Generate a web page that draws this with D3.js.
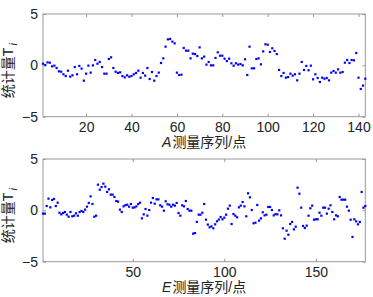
<!DOCTYPE html>
<html>
<head>
<meta charset="utf-8">
<script src="https://cdn.jsdelivr.net/npm/d3@7"></script>
<style>
body { margin: 0; background: #fff; }
</style>
</head>
<body>
<div id="chart"></div>
<script>
const seriesA = [
  0.16, 0.03, 0.29, 0.26, -0.10, -0.03, -0.26, -0.58, -0.62, -0.87,
  -1.04, -0.52, -1.10, -0.97, -0.16, -0.87, -0.06, -0.32, -1.49, -0.81,
  -0.03, -0.71, 0.00, 0.52, 0.16, 0.33, -0.16, -0.81, -0.81, 0.62,
  0.78, -0.26, -0.62, -0.74, -0.68, -1.04, -1.17, -0.97, -1.10, -1.04,
  -0.87, -0.74, -0.52, -1.20, -0.74, -1.00, -0.26, -1.33, -0.65, -1.49,
  -1.04, -0.71, 0.23, 0.68, 1.82, 2.53, 2.57, 2.31, 2.14, -0.71,
  -0.94, -0.91, 1.69, 1.43, 1.43, 0.68, 1.14, 1.10, 0.91, 1.75,
  0.68, 0.85, 0.07, 0.33, 0.00, 0.00, 0.72, 1.27, 0.94, 0.94,
  0.65, 0.42, 0.65, 0.20, -0.03, 0.20, 0.07, 0.13, 0.00, 0.59,
  -0.94, 1.82, -0.29, -0.29, 0.62, 0.68, 0.10, 1.36, 2.05, 2.01,
  1.30, 1.66, 1.40, 1.10, -0.45, -1.04, -0.74, -1.20, -1.14, -0.81,
  -1.00, -0.87, -1.46, -0.81, 0.33, -0.45, -0.06, -0.48, -0.03, -1.36,
  -0.87, -1.23, -1.62, -1.20, -1.30, -1.23, -1.46, -0.71, -0.55, -0.71,
  -0.39, -0.71, -0.65, 0.26, 0.52, 0.23, 0.52, 0.49, 1.20, -1.20,
  -2.30, -1.97, -1.30
];

const seriesE = [
  -0.32, -0.32, 0.42, 1.14, 0.29, 1.01, 1.11, 0.42, 0.75, -0.23,
  -0.39, -0.26, -0.16, -0.42, -0.62, -0.16, -0.58, -0.52, -0.29, -0.52,
  -0.16, -0.06, -0.16, 0.07, 0.36, 0.72, 1.36, 0.62, -0.62, -0.52,
  2.50, 2.01, 2.27, 2.60, 2.31, 1.79, 2.05, 1.53, 1.53, 1.30,
  0.91, 0.85, 0.07, -0.16, 0.39, 0.50, 0.55, 0.36, 0.62, 0.26,
  0.29, 0.39, 0.62, 0.75, -0.78, -0.39, 0.13, -0.52, 0.03, 0.75,
  1.20, 0.65, 1.07, 1.07, 0.49, 0.36, -0.03, 0.88, 0.59, 0.55,
  0.36, 0.55, 0.46, 0.72, -0.26, -0.52, 0.49, 0.39, 0.91, 0.13,
  -0.03, -0.03, -2.27, -2.21, -1.13, -0.42, -0.42, -0.23, 0.62, -0.91,
  -1.39, -1.65, -1.56, -1.75, -1.36, -1.07, -0.90, -0.65, -0.87, -0.71,
  -0.42, 0.16, 0.46, -1.33, -0.36, -0.52, -0.68, 0.29, 0.46, 0.81,
  0.39, -0.58, 1.66, 1.27, 0.03, -1.26, -1.20, 0.52, -1.00, -0.78,
  -0.19, -0.49, -0.42, 0.33, 0.33, 0.03, -0.49, -0.36, -0.39, 0.00,
  -0.49, -1.75, -2.76, -1.98, -2.37, -1.33, -1.13, -1.85, -1.59, 2.21,
  1.62, 0.26, -1.52, -1.72, -1.49, -0.52, 0.20, 0.46, -0.91, -0.87,
  -0.87, -0.23, -0.52, 0.26, 0.26, -0.32, 0.16, 0.49, -0.16, -0.87,
  -0.49, -0.58, 1.30, 1.04, 1.04, 1.04, 0.36, -0.03, -0.91, -2.59,
  -0.87, -1.07, -1.36, -1.13, 1.79, 0.26, 0.42
];

const ticksA = [20, 40, 60, 80, 100, 120, 140];
const ticksE = [50, 100, 150];
const yTicks = [-5, 0, 5];
const yDomain = [-5, 5];
const yLabel = "统计量T";
const xLabelTail = "测量序列/点";

const width = 373, height = 297;
const left = 43, right = 365.3;
const axisColor = "#999";
const textColor = "#222";
const numFont = "'Liberation Sans', Arial, sans-serif";
const cjkFont = "'Liberation Sans', 'Noto Sans CJK SC', sans-serif";

const svg = d3.select("#chart")
  .append("svg")
  .attr("width", width)
  .attr("height", height);

function drawPanel(data, ticks, letter, top, bottom) {
  const g = svg.append("g");

  const x = d3.scaleLinear().domain([1, data.length]).range([left, right]);
  const y = d3.scaleLinear().domain(yDomain).range([bottom, top]);

  // inward ticks on all four sides, like the matlab box
  g.append("g")
    .attr("transform", `translate(0,${bottom})`)
    .call(d3.axisBottom(x).tickValues(ticks).tickSize(-3).tickPadding(5));
  g.append("g")
    .attr("transform", `translate(0,${top})`)
    .call(d3.axisTop(x).tickValues(ticks).tickSize(-3).tickFormat(""));
  g.append("g")
    .attr("transform", `translate(${left},0)`)
    .call(d3.axisLeft(y).tickValues(yTicks).tickSize(-3).tickPadding(5));
  g.append("g")
    .attr("transform", `translate(${right},0)`)
    .call(d3.axisRight(y).tickValues(yTicks).tickSize(-3).tickFormat(""));

  g.selectAll(".domain").remove();
  g.selectAll(".tick line").attr("stroke", axisColor);
  g.selectAll(".tick text")
    .attr("fill", textColor)
    .style("font-family", numFont)
    .style("font-size", "14px");

  g.append("rect")
    .attr("x", left)
    .attr("y", top)
    .attr("width", right - left)
    .attr("height", bottom - top)
    .attr("fill", "none")
    .attr("stroke", axisColor)
    .attr("stroke-width", 1);

  g.selectAll("rect.pt")
    .data(data)
    .join("rect")
    .attr("class", "pt")
    .attr("x", (d, i) => x(i + 1) - 1.1)
    .attr("y", d => y(d) - 1.1)
    .attr("width", 2.2)
    .attr("height", 2.2)
    .attr("fill", "#0000ff");

  // x label: italic letter + chinese tail, as two texts side by side
  const xl = g.append("g").attr("transform", `translate(0,${bottom + 30})`);
  const lt = xl.append("text")
    .attr("fill", textColor)
    .style("font-family", numFont)
    .style("font-style", "italic")
    .style("font-size", "14px")
    .text(letter);
  const tt = xl.append("text")
    .attr("fill", textColor)
    .style("font-family", cjkFont)
    .style("font-size", "14px")
    .text(xLabelTail);
  const wl = lt.node().getComputedTextLength() + 1;
  const wt = tt.node().getComputedTextLength();
  const x0 = (left + right) / 2 - (wl + wt) / 2;
  lt.attr("x", x0);
  tt.attr("x", x0 + wl);

  // y label with subscript i
  const cy = (top + bottom) / 2 + 5;
  const yg = g.append("g").attr("transform", `translate(13,${cy}) rotate(-90)`);
  const ym = yg.append("text")
    .attr("fill", textColor)
    .style("font-family", cjkFont)
    .style("font-size", "14px")
    .text(yLabel);
  const wy = ym.node().getComputedTextLength();
  ym.attr("x", -(wy + 5) / 2);
  yg.append("text")
    .attr("x", (wy + 5) / 2 - 3)
    .attr("y", 4)
    .attr("fill", textColor)
    .style("font-family", numFont)
    .style("font-style", "italic")
    .style("font-size", "11px")
    .text("i");
}

drawPanel(seriesA, ticksA, "A", 14, 116.7);
drawPanel(seriesE, ticksE, "E", 159, 261.7);
</script>
</body>
</html>
